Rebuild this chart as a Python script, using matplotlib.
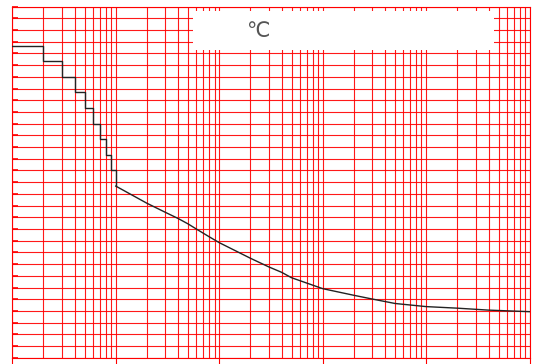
import matplotlib
matplotlib.use("Agg")
import matplotlib.pyplot as plt
from matplotlib.ticker import LogLocator, MultipleLocator, NullFormatter
from matplotlib.patches import Rectangle

# step part: integer x from 1 to 10
step_x = [1, 2, 3, 4, 5, 6, 7, 8, 9, 10]
step_y = [80, 76, 72, 68, 64, 60, 56, 52, 48, 44]

# smooth part after x = 10
curve_x = [10, 20, 30, 40, 50, 60, 80, 100, 200, 300, 400, 500, 800,
           1000, 2000, 3000, 5000, 10000, 20000, 40000, 100000]
curve_y = [44, 39.6, 37.3, 35.7, 34.3, 33.0, 31.0, 29.5, 25.5, 23.3, 21.9,
           20.5, 18.6, 17.7, 16.0, 15.05, 13.9, 13.1, 12.7, 12.2, 11.8]

unit_label = "\u2103"

grid_red = "#ff0000"

fig = plt.figure(figsize=(5.38, 3.64), dpi=100)
ax = fig.add_axes([12.3 / 538, 1 - 357.7 / 364, 517.4 / 538, 351 / 364])

ax.step(step_x, step_y, where="post", color="#222222", lw=1.0, zorder=5)
ax.plot(curve_x, curve_y, color="#222222", lw=1.0, zorder=5)

ax.set_xscale("log")
ax.set_xlim(1, 1e5)
ax.set_ylim(0, 90)

ax.xaxis.set_major_locator(LogLocator(base=10))
ax.xaxis.set_minor_locator(LogLocator(base=10, subs=range(2, 10)))
ax.xaxis.set_major_formatter(NullFormatter())
ax.xaxis.set_minor_formatter(NullFormatter())
ax.yaxis.set_major_locator(MultipleLocator(3))
ax.yaxis.set_major_formatter(NullFormatter())

ax.grid(True, which="both", color=grid_red, lw=0.8, alpha=0.9)
ax.tick_params(axis="x", which="major", direction="out", length=4.5,
               color=grid_red, width=0.8)
ax.tick_params(axis="x", which="minor", length=0)
ax.tick_params(axis="y", which="major", direction="in", length=4.5,
               color=grid_red, width=1.2)
for sp in ax.spines.values():
    sp.set_color(grid_red)
    sp.set_linewidth(0.8)

# white label box at the top
ax.add_patch(Rectangle((0.349, 0.877), 0.582, 0.111, transform=ax.transAxes,
                       facecolor="white", edgecolor="none", zorder=4))
ax.text(0.474, 0.931, unit_label, transform=ax.transAxes, ha="center",
        va="center", fontsize=15, color="#555555",
        family=["DejaVu Sans", "Noto Sans CJK SC"], zorder=6)

fig.savefig("out.png", dpi=100)
